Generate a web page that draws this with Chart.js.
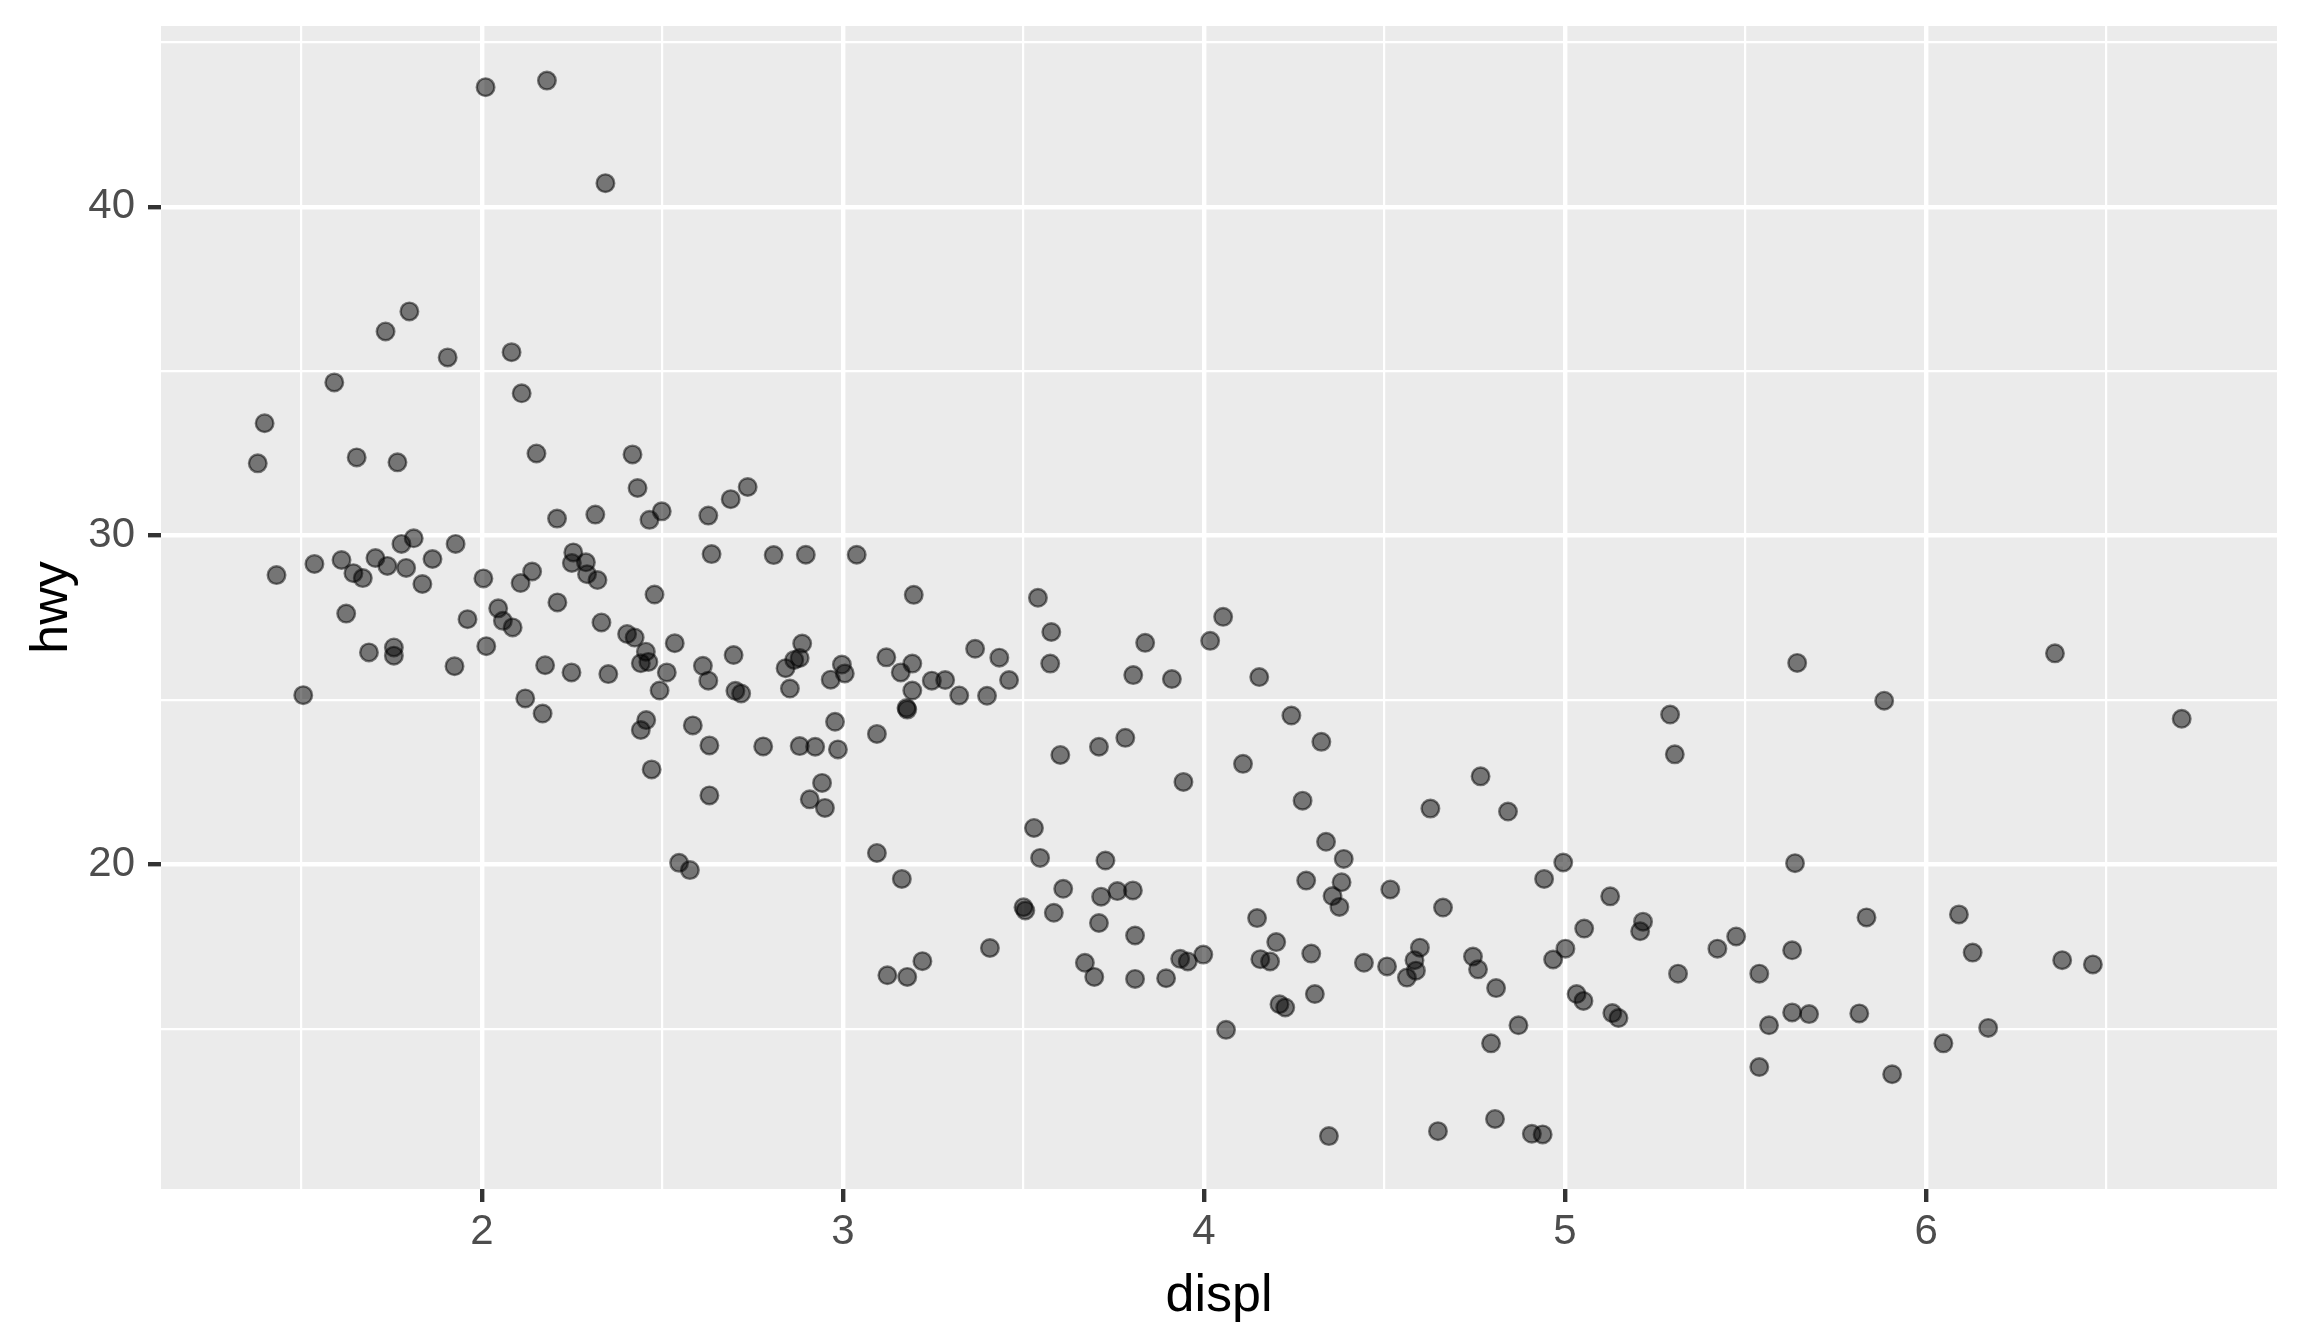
<!DOCTYPE html>
<html>
<head>
<meta charset="utf-8">
<title>hwy vs displ</title>
<script src="https://cdn.jsdelivr.net/npm/chart.js@4.4.1/dist/chart.umd.min.js"></script>
<style>
    html, body { margin: 0; padding: 0; background: #ffffff; }
    #wrap { width: 2304px; height: 1344px; }
</style>
</head>
<body>
<div id="wrap"><canvas id="scatter" width="2304" height="1344"></canvas></div>
<script>
// engine displacement (jittered)
const displ = [
    2.010, 2.180, 2.342, 1.799, 1.733, 1.905, 2.082, 1.591, 2.110, 1.398, 1.379, 1.653,
    1.766, 2.151, 2.417, 2.431, 2.736, 2.689, 2.627, 2.208, 2.314, 2.464, 2.498,
    1.431, 1.536, 1.611, 1.644, 1.670, 1.705, 1.738, 1.777, 1.811, 1.790, 1.863, 1.927,
    1.835, 1.624, 1.687, 1.756, 1.756, 1.924, 1.505, 2.004, 1.960, 2.045, 2.058, 2.085,
    2.012, 2.107, 2.139, 2.209, 2.253, 2.249, 2.288, 2.291, 2.320, 2.175, 2.248, 2.350,
    2.120, 2.168, 2.331, 2.402, 2.423, 2.478, 2.454, 2.440, 2.461, 2.534, 2.512, 2.492,
    2.455, 2.440, 2.470, 2.584, 2.630, 2.630, 2.546, 2.576, 2.636, 2.808, 2.612, 2.627,
    2.697, 2.702, 2.718, 2.779, 2.841, 2.853,
    2.897, 3.038, 3.196, 2.887, 2.880, 2.865, 2.997, 3.005, 2.966, 3.120, 3.192, 3.160,
    3.246, 3.283, 3.192, 3.176, 3.178, 3.322, 3.399, 3.366, 3.433, 3.460, 3.540, 3.577,
    3.574, 3.837, 3.804, 3.911, 4.053, 4.017, 4.153, 2.978, 3.094, 2.880, 2.923, 2.986,
    2.942, 2.908, 2.950, 3.094, 3.163, 3.529, 3.546, 3.602, 3.709, 3.782, 3.943, 4.108,
    4.242, 4.325, 4.273, 4.338, 4.387, 3.727, 3.610, 3.715, 3.760, 3.803, 4.283, 4.381,
    4.356, 4.375,
    3.500, 3.505, 3.584, 3.709, 3.809, 3.407, 3.220, 3.123, 3.178, 3.670, 3.696, 3.809,
    3.895, 3.934, 3.955, 3.998, 4.147, 4.200, 4.156, 4.183, 4.297, 4.307, 4.209, 4.225,
    4.061, 4.346, 4.443,
    5.643, 5.884, 5.291, 5.304, 4.766, 4.627, 4.842, 4.995, 4.942, 5.637, 4.516, 4.662,
    5.125, 5.053, 5.216, 5.208, 4.598, 4.583, 4.587, 4.562, 4.507, 4.745, 4.759, 4.809,
    5.001, 4.967, 4.871, 4.795, 5.032, 5.051, 5.131, 5.148, 5.313, 5.422, 5.474, 5.538,
    5.629, 5.565, 5.629, 5.676, 5.815, 5.538, 5.906, 5.835, 6.091, 6.129, 6.048, 4.648,
    4.806, 4.908, 4.938,
    6.357, 6.708, 6.377, 6.462, 6.172
];

// highway mileage (jittered), same order
const hwy = [
    43.64, 43.84, 40.72, 36.82, 36.21, 35.42, 35.58, 34.66, 34.33, 33.42, 32.20, 32.38,
    32.23, 32.50, 32.47, 31.45, 31.48, 31.11, 30.61, 30.52, 30.64, 30.48, 30.74,
    28.80, 29.14, 29.26, 28.86, 28.71, 29.32, 29.08, 29.75, 29.92, 29.02, 29.29, 29.75,
    28.53, 27.63, 26.45, 26.60, 26.35, 26.03, 25.15, 28.70, 27.46, 27.79, 27.41, 27.21,
    26.64, 28.56, 28.91, 27.97, 29.49, 29.17, 29.19, 28.83, 28.65, 26.06, 25.84, 25.79,
    25.05, 24.59, 27.36, 27.01, 26.90, 28.21, 26.47, 26.12, 26.16, 26.73, 25.84, 25.29,
    24.39, 24.09, 22.89, 24.23, 23.62, 22.10, 20.05, 19.83, 29.44, 29.41, 26.04, 25.59,
    26.37, 25.28, 25.20, 23.59, 25.97, 25.35,
    29.42, 29.42, 28.20, 26.72, 26.28, 26.22, 26.08, 25.81, 25.62, 26.30, 26.11, 25.84,
    25.59, 25.61, 25.29, 24.76, 24.71, 25.14, 25.13, 26.56, 26.29, 25.61, 28.11, 27.07,
    26.11, 26.74, 25.76, 25.64, 27.53, 26.80, 25.70, 24.34, 23.97, 23.60, 23.58, 23.50,
    22.48, 21.98, 21.72, 20.35, 19.56, 21.11, 20.20, 23.33, 23.58, 23.85, 22.51, 23.06,
    24.53, 23.73, 21.94, 20.69, 20.17, 20.12, 19.26, 19.02, 19.19, 19.21, 19.51, 19.46,
    19.04, 18.71,
    18.70, 18.60, 18.53, 18.22, 17.84, 17.46, 17.06, 16.63, 16.58, 17.01, 16.58, 16.52,
    16.54, 17.13, 17.05, 17.26, 18.37, 17.64, 17.12, 17.05, 17.29, 16.06, 15.75, 15.65,
    14.97, 11.74, 17.01,
    26.13, 24.98, 24.56, 23.35, 22.68, 21.70, 21.61, 20.06, 19.56, 20.04, 19.24, 18.69,
    19.03, 18.05, 18.26, 17.97, 17.47, 17.09, 16.77, 16.56, 16.90, 17.20, 16.81, 16.24,
    17.44, 17.11, 15.11, 14.56, 16.06, 15.85, 15.48, 15.33, 16.68, 17.44, 17.81, 16.68,
    17.39, 15.11, 15.50, 15.45, 15.47, 13.84, 13.62, 18.39, 18.48, 17.32, 14.56, 11.89,
    12.26, 11.81, 11.79,
    26.42, 24.43, 17.09, 16.96, 15.03
];

// grid positions and which of them carry a label
const xGrid = [1.5, 2, 2.5, 3, 3.5, 4, 4.5, 5, 5.5, 6, 6.5];
const xLabels = [2, 3, 4, 5, 6];
const yGrid = [15, 20, 25, 30, 35, 40, 45];
const yLabels = [20, 30, 40];

const FONT = "'Liberation Sans', Arial, Helvetica, sans-serif";

document.addEventListener('DOMContentLoaded', function() {
    const points = displ.map((d, i) => ({ x: d, y: hwy[i] }));

    // grey panel behind the grid, like theme_gray
    const panelBg = {
        id: 'panelBg',
        beforeDraw(chart) {
            const { ctx, chartArea: a } = chart;
            ctx.save();
            ctx.fillStyle = '#EBEBEB';
            ctx.fillRect(a.left, a.top, a.right - a.left, a.bottom - a.top);
            ctx.restore();
        }
    };

    const isX = v => xLabels.includes(v);
    const isY = v => yLabels.includes(v);

    new Chart(document.getElementById('scatter').getContext('2d'), {
        type: 'scatter',
        data: {
            datasets: [{
                data: points,
                pointRadius: 8.8,
                pointHoverRadius: 8.8,
                borderWidth: 2.4,
                backgroundColor: 'rgba(0, 0, 0, 0.5)',
                borderColor: 'rgba(0, 0, 0, 0.5)'
            }]
        },
        options: {
            responsive: false,
            animation: false,
            devicePixelRatio: 1,
            layout: { padding: { top: 26, right: 27, left: 0, bottom: 0 } },
            plugins: { legend: { display: false }, tooltip: { enabled: false } },
            scales: {
                x: {
                    type: 'linear',
                    min: 1.111,
                    max: 6.972,
                    afterBuildTicks: s => { s.ticks = xGrid.map(v => ({ value: v })); },
                    afterFit: s => {
                        s.height = 155;
                        s.paddingLeft = 0;
                        s.paddingRight = 0;
                    },
                    border: { display: false },
                    grid: {
                        color: '#FFFFFF',
                        lineWidth: c => (c.tick && isX(c.tick.value)) ? 4.4 : 2.2,
                        tickLength: 13,
                        tickWidth: 4.4,
                        tickColor: c => (c.tick && isX(c.tick.value)) ? '#333333' : 'rgba(0,0,0,0)'
                    },
                    ticks: {
                        autoSkip: false,
                        maxRotation: 0,
                        padding: 5,
                        color: '#4D4D4D',
                        font: { family: FONT, size: 42 },
                        callback: v => isX(v) ? String(v) : ''
                    },
                    title: {
                        display: true,
                        text: 'displ',
                        color: '#000000',
                        font: { family: FONT, size: 52 },
                        padding: { top: 0, bottom: 16 }
                    }
                },
                y: {
                    type: 'linear',
                    min: 10.13,
                    max: 45.5,
                    afterBuildTicks: s => { s.ticks = yGrid.map(v => ({ value: v })); },
                    afterFit: s => {
                        s.width = 161;
                        s.paddingTop = 0;
                        s.paddingBottom = 0;
                    },
                    border: { display: false },
                    grid: {
                        color: '#FFFFFF',
                        lineWidth: c => (c.tick && isY(c.tick.value)) ? 4.4 : 2.2,
                        tickLength: 13,
                        tickWidth: 4.4,
                        tickColor: c => (c.tick && isY(c.tick.value)) ? '#333333' : 'rgba(0,0,0,0)'
                    },
                    ticks: {
                        autoSkip: false,
                        padding: 13,
                        color: '#4D4D4D',
                        font: { family: FONT, size: 42 },
                        callback: v => isY(v) ? String(v) : ''
                    },
                    title: {
                        display: true,
                        text: 'hwy',
                        color: '#000000',
                        font: { family: FONT, size: 52 },
                        padding: { top: 21, bottom: 0 }
                    }
                }
            }
        },
        plugins: [panelBg]
    });
});
</script>
</body>
</html>
